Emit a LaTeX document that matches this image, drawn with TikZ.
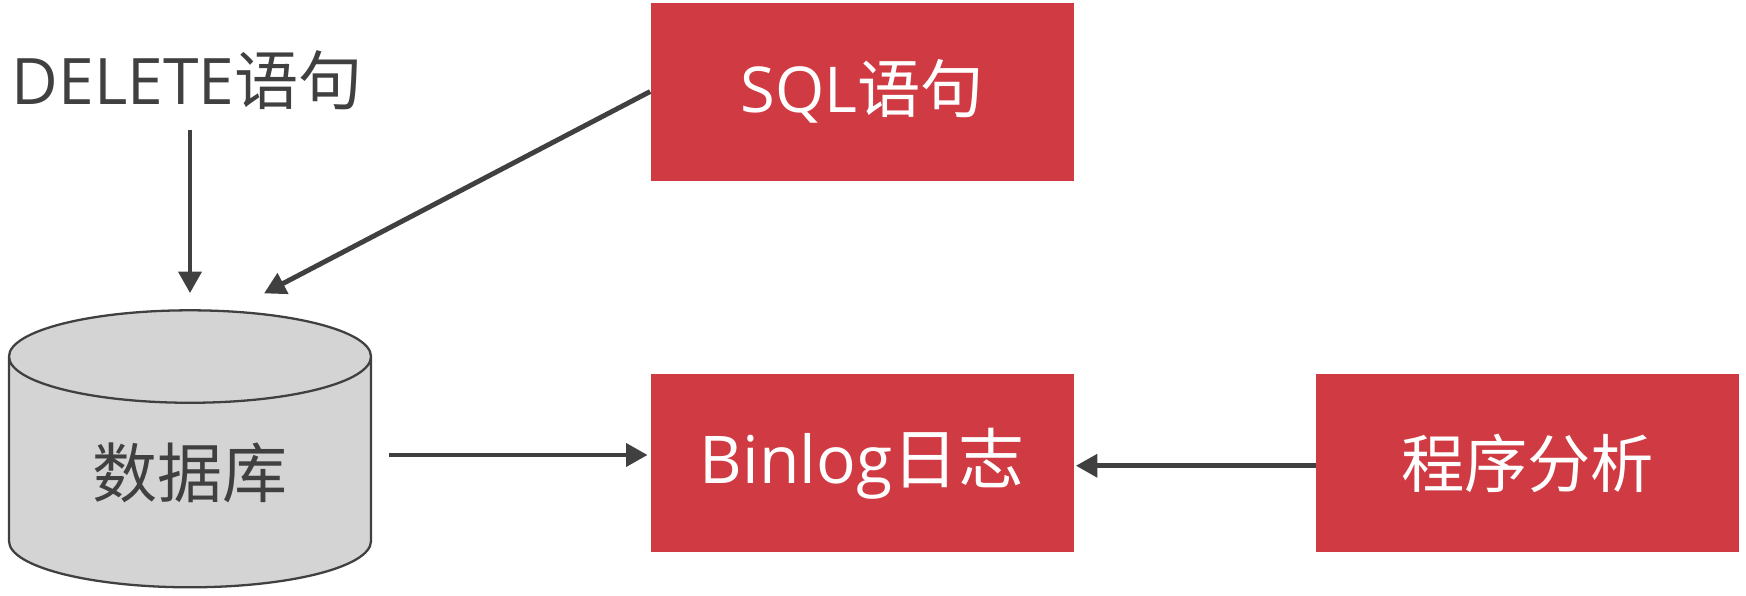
\documentclass[tikz,border=0pt]{standalone}
\usepackage{fontspec}
\setmainfont{Open Sans}
\newfontfamily\cjk{Noto Sans CJK SC}
\usepackage{xcolor}
\usetikzlibrary{shapes.geometric, arrows.meta, positioning, calc}
\definecolor{boxred}{HTML}{CF3A43}
\definecolor{inkgray}{HTML}{404040}
\definecolor{dbgray}{HTML}{D4D4D4}
\tikzset{
  redbox/.style={rectangle, fill=boxred, text=white, minimum width=8.46cm, minimum height=3.56cm, inner sep=0pt, align=center, font=\fontsize{36}{42}\selectfont},
  dbshape/.style={cylinder, shape border rotate=90, aspect=0.474, draw=inkgray, line width=1.3pt, fill=dbgray, text=inkgray, minimum width=7.24cm, minimum height=5.54cm, inner sep=0pt, align=center, font=\fontsize{37}{42}\selectfont},
  plainlabel/.style={text=inkgray, inner sep=0pt, align=center, font=\fontsize{36.5}{42}\selectfont},
  arrow/.style={-{Triangle[length=0.43cm, width=0.45cm]}, line width=2.8pt, draw=inkgray},
}
\begin{document}
\begin{tikzpicture}[node distance=3.86cm and 4.84cm]
\useasboundingbox (0,0) rectangle (34.92,11.92);
\node[redbox, font=\fontsize{37.5}{42}\selectfont] (binlog) at (17.24,2.655){Binlog{\cjk 日志}};
\node[redbox, above=of binlog] (sql){SQL{\cjk 语句}};
\node[redbox, right=of binlog] (ana){{\cjk 程序分析}};
\node[dbshape] (db) at (3.8,2.47){{\cjk 数据库}};
\node[plainlabel] (del) at (3.745,10.32){DELETE{\cjk 语句}};
\coordinate (dbtop) at ($(db.north)+(1.48,0.315)$);
\coordinate (dbout) at ($(db.east)+(0.34,0.35)$);
\draw[arrow, shorten <=0.4cm, shorten >=0.32cm](del.south -| db.north)--(db.north);
\draw[arrow](sql.west)--(dbtop);
\draw[arrow, shorten >=0.05cm](dbout)--(dbout -| binlog.west);
\draw[arrow, shorten >=0.04cm]([yshift=-0.05cm]ana.west)--([yshift=-0.05cm]binlog.east);
\end{tikzpicture}
\end{document}
